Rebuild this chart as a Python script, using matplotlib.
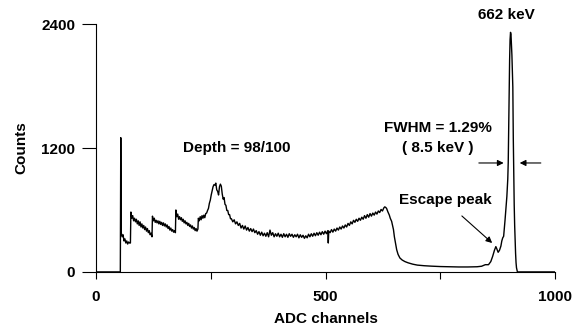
import matplotlib
matplotlib.use("Agg")
import matplotlib.pyplot as plt

# --- spectrum (channel, counts) ---
channels = [
    0, 53, 54, 55, 57, 59, 61, 63, 65, 67, 69, 71, 73, 75, 76,
    78, 80, 82, 84, 86, 88, 90, 92, 94, 96, 98, 100, 102, 104, 106, 108,
    110, 112, 114, 116, 118, 120, 122, 123,
    125, 127, 129, 131, 133, 135, 137, 139, 141, 143, 145, 147, 149, 151,
    153, 155, 157, 159, 161, 163, 165, 167, 169, 171, 173, 174,
    176, 178, 180, 182, 184, 186, 188, 190, 192, 194, 196, 198, 200, 202,
    204, 206, 208, 210, 212, 214, 216, 218, 220, 222, 223,
    225, 227, 229, 231, 233, 235, 237, 239, 241, 243, 245, 247, 249, 251,
    253, 255, 257, 259, 261, 263, 265, 267, 269, 271, 273, 275, 277, 279,
    281, 283, 285, 287, 289, 291, 293, 295,
    298, 301, 304, 307, 310, 313, 316, 319, 322, 325, 328, 331, 334, 337,
    340, 343, 346, 349, 352, 355, 358, 361, 364, 367, 370, 373, 376, 379,
    382, 385, 388, 391, 394, 397, 400, 403, 406, 409, 412, 415, 418, 421,
    424, 427, 430, 433, 436, 439, 442, 445, 448, 451, 454, 457, 460, 463,
    466, 469, 472, 475, 478, 481, 484, 487, 490, 493, 496, 499, 502, 505,
    506, 507, 510, 513, 516, 519, 522, 525, 528, 531, 534, 537, 540, 543,
    546, 549, 552, 555, 558, 561, 564, 567, 570, 573, 576, 579, 582, 585,
    588, 591, 594, 597, 600, 603, 606, 609, 612, 615, 618, 621, 624, 627,
    629, 631, 633, 636, 639, 641, 644, 646, 648, 650, 652, 655, 658, 662,
    667, 673, 680, 690, 700, 715, 730, 750, 770, 790, 810, 830, 840, 848,
    855, 860, 864, 868, 871, 873, 876, 879, 882, 884, 886, 888, 891, 893,
    895, 897, 898, 899, 900, 901, 902, 903, 904, 905, 906, 907, 908, 909,
    910, 911, 912, 913, 914, 915, 916, 918, 1000,
]
counts = [
    0, 0, 1300, 380, 340, 360, 300, 320, 280, 300, 270, 290, 280, 280, 580,
    520, 545, 495, 520, 485, 510, 465, 495, 450, 485, 435, 465, 425, 450, 410, 435,
    395, 420, 380, 400, 360, 375, 340, 540,
    495, 520, 480, 500, 475, 495, 465, 490, 460, 480, 450, 475, 445, 465,
    435, 455, 420, 440, 405, 425, 395, 410, 385, 400, 380, 600,
    535, 560, 510, 535, 505, 525, 490, 510, 475, 495, 465, 480, 450, 470,
    440, 455, 425, 445, 415, 430, 400, 420, 395, 415, 520,
    495, 535, 505, 545, 520, 550, 525, 565, 570, 595, 615, 665, 695, 745,
    785, 825, 845, 840, 860, 795, 780, 745, 825, 850, 830, 755, 705, 720,
    655, 645, 595, 595, 555, 555, 515, 515,
    485, 505, 465, 485, 450, 470, 425, 450, 415, 445, 405, 430, 395, 420,
    390, 415, 380, 400, 365, 390, 355, 385, 350, 375, 345, 380, 340, 405,
    355, 380, 340, 370, 345, 375, 340, 365, 335, 370, 340, 365, 335, 370,
    345, 365, 335, 360, 340, 365, 330, 360, 335, 355, 325, 350, 330, 365,
    340, 370, 345, 375, 350, 380, 355, 385, 360, 390, 365, 395, 370, 400,
    280, 395, 380, 410, 385, 415, 395, 425, 405, 435, 415, 445, 425, 455,
    435, 470, 450, 485, 465, 500, 480, 510, 490, 520, 500, 530, 510, 545,
    520, 555, 530, 565, 540, 570, 550, 580, 560, 590, 575, 605, 590, 620,
    630, 625, 615, 580, 550, 520, 490, 450, 410, 340, 290, 215, 170, 135,
    115, 100, 88, 75, 66, 60, 56, 52, 50, 48, 48, 50, 55, 70,
    70, 100, 150, 210, 245, 225, 190, 210, 250, 300, 330, 345, 500, 620,
    730, 900, 1060, 1400, 1800, 2050, 2250, 2320, 2300, 2200, 2100, 1950, 1790, 1300,
    950, 650, 450, 300, 180, 90, 40, 0, 0,
]

plt.rcParams['font.family'] = ['Liberation Sans', 'DejaVu Sans']
plt.rcParams['font.weight'] = 'bold'

fig = plt.figure(figsize=(5.8, 3.3), dpi=100)
ax = fig.add_axes([0.1655, 0.176, 0.7915, 0.751])

ax.plot(channels, counts, color='black', lw=1.0)

ax.set_xlim(0, 1000)
ax.set_ylim(0, 2400)
ax.set_xticks([0, 250, 500, 750, 1000])
ax.set_xticklabels(['0', '', '500', '', '1000'])
ax.set_yticks([0, 1200, 2400])
ax.tick_params(axis='y', direction='out', length=10, width=0.8, pad=5, labelsize=11)
ax.tick_params(axis='x', direction='out', length=5, width=0.8, pad=8, labelsize=11)
for s in ['top', 'right']:
    ax.spines[s].set_visible(False)
for s in ['left', 'bottom']:
    ax.spines[s].set_linewidth(0.8)

ax.set_xlabel('ADC channels', fontsize=11, fontweight='bold', labelpad=6)
ax.set_ylabel('Counts', fontsize=11, fontweight='bold', labelpad=9)

# --- annotations ---
ax.text(895, 2490, '662 keV', ha='center', va='center', fontsize=11, clip_on=False)
ax.text(745, 1394, 'FWHM = 1.29%', ha='center', va='center', fontsize=11)
ax.text(745, 1200, '( 8.5 keV )', ha='center', va='center', fontsize=11)
ax.text(760, 697, 'Escape peak', ha='center', va='center', fontsize=11)
ax.text(306, 1200, 'Depth = 98/100', ha='center', va='center', fontsize=11)

arrow = dict(arrowstyle='-|>', color='black', lw=0.8, mutation_scale=9,
             shrinkA=0, shrinkB=0)
ax.annotate('', xy=(888, 1055), xytext=(834, 1055), arrowprops=arrow)
ax.annotate('', xy=(923, 1055), xytext=(969, 1055), arrowprops=arrow)
ax.annotate('', xy=(863, 280), xytext=(797, 542), arrowprops=arrow)

fig.savefig('out.png', dpi=100)
